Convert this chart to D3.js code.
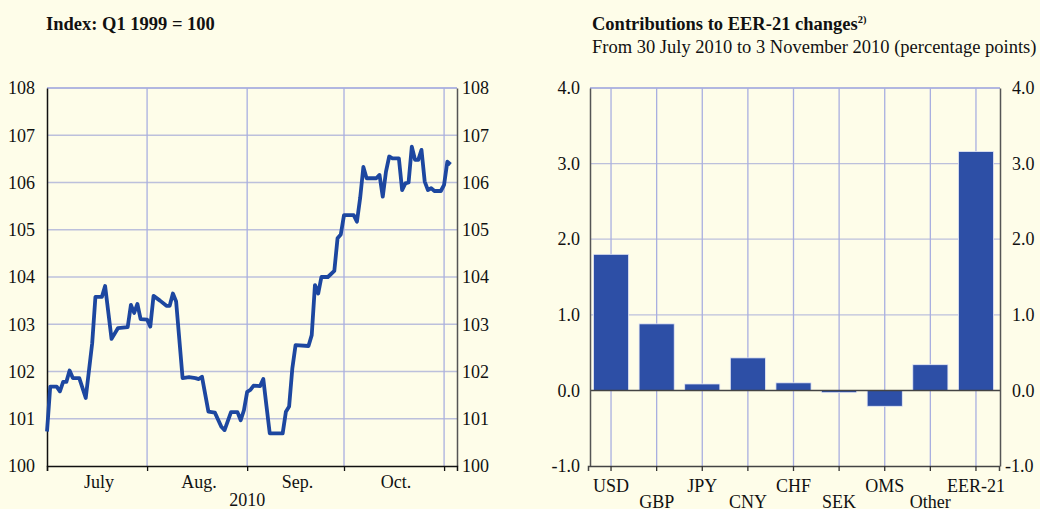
<!DOCTYPE html>
<html>
<head>
<meta charset="utf-8">
<script src="https://cdn.jsdelivr.net/npm/d3@7"></script>
<style>
  html, body { margin: 0; padding: 0; background: #fefde9; }
  svg { display: block; }
  text { font-family: "Liberation Serif", "Times New Roman", serif; fill: #111; }
</style>
</head>
<body>
<svg id="chart" width="1040" height="509"></svg>
<script>
// EER-21 index, daily (Index: Q1 1999 = 100)
const eerDates = [
  "2010-07-01","2010-07-02","2010-07-04","2010-07-05","2010-07-06","2010-07-07","2010-07-08","2010-07-09",
  "2010-07-11","2010-07-13","2010-07-15","2010-07-16","2010-07-18","2010-07-19","2010-07-21","2010-07-23",
  "2010-07-26","2010-07-27","2010-07-28","2010-07-29","2010-07-30","2010-08-01","2010-08-02","2010-08-03",
  "2010-08-05","2010-08-07","2010-08-08","2010-08-09","2010-08-10","2010-08-12","2010-08-14","2010-08-16",
  "2010-08-17","2010-08-18","2010-08-20","2010-08-22","2010-08-24","2010-08-25","2010-08-27","2010-08-29",
  "2010-08-30","2010-08-31","2010-09-01","2010-09-02","2010-09-03","2010-09-05","2010-09-06","2010-09-07",
  "2010-09-08","2010-09-12","2010-09-13","2010-09-14","2010-09-15","2010-09-16","2010-09-20","2010-09-21",
  "2010-09-22","2010-09-23","2010-09-24","2010-09-26","2010-09-28","2010-09-29","2010-09-30","2010-10-01",
  "2010-10-04","2010-10-05","2010-10-06","2010-10-07","2010-10-08","2010-10-11","2010-10-12","2010-10-13",
  "2010-10-14","2010-10-15","2010-10-16","2010-10-18","2010-10-19","2010-10-20","2010-10-21","2010-10-22",
  "2010-10-23","2010-10-24","2010-10-25","2010-10-26","2010-10-27","2010-10-28","2010-10-29","2010-10-31",
  "2010-11-01","2010-11-02","2010-11-03"
];
const eerValues = [
  100.73,101.68,101.68,101.58,101.78,101.78,102.02,101.86,
  101.86,101.44,102.60,103.58,103.58,103.81,102.69,102.92,
  102.94,103.41,103.24,103.43,103.11,103.10,102.95,103.60,
  103.50,103.39,103.39,103.65,103.48,101.86,101.88,101.86,
  101.84,101.89,101.15,101.13,100.83,100.76,101.14,101.14,
  100.97,101.18,101.57,101.61,101.70,101.69,101.84,101.26,
  100.69,100.69,101.15,101.26,102.07,102.56,102.54,102.77,
  103.83,103.65,104.00,104.00,104.13,104.82,104.90,105.31,
  105.31,105.17,105.67,106.33,106.09,106.09,106.16,105.70,
  106.23,106.55,106.51,106.51,105.84,105.98,106.00,106.76,
  106.48,106.48,106.69,106.02,105.84,105.88,105.82,105.82,
  105.95,106.44,106.38
];
const leftTicks = [100, 101, 102, 103, 104, 105, 106, 107, 108];
const monthLabels = ["July", "Aug.", "Sep.", "Oct."];
const monthStarts = ["2010-07-01", "2010-08-01", "2010-09-01", "2010-10-01", "2010-11-01"];
const yearLabel = "2010";

// Contributions to EER-21 changes (percentage points)
const currencies = ["USD", "GBP", "JPY", "CNY", "CHF", "SEK", "OMS", "Other", "EER-21"];
const contributions = [1.80, 0.88, 0.085, 0.43, 0.10, -0.03, -0.21, 0.34, 3.16];
const rightTicks = [-1.0, 0.0, 1.0, 2.0, 3.0, 4.0];

const svg = d3.select("#chart");
const parse = d3.timeParse("%Y-%m-%d");
const gridV = "#a9afe0";
const gridH = "#bcc0dc";
const lineBlue = "#1d47a0";
const barBlue = "#2d4fa6";
const fs = 18;

// ---------- Left panel: index line ----------
const L = { left: 47, right: 457, top: 88, bottom: 466 };
const x = d3.scaleTime()
  .domain([parse("2010-07-01"), parse("2010-11-05")])
  .range([L.left, L.right]);
const y = d3.scaleLinear().domain([100, 108]).range([L.bottom, L.top]);

svg.append("text").attr("x", 46).attr("y", 30)
  .attr("font-size", 18.5).attr("font-weight", "bold")
  .text("Index: Q1 1999 = 100");

const gL = svg.append("g");
gL.selectAll("line.h").data(leftTicks.filter(d => d > 100)).join("line")
  .attr("x1", L.left).attr("x2", L.right)
  .attr("y1", d => y(d)).attr("y2", d => y(d))
  .attr("stroke", gridH).attr("stroke-width", 1.3);
gL.selectAll("line.v").data(monthStarts.slice(1)).join("line")
  .attr("x1", d => x(parse(d))).attr("x2", d => x(parse(d)))
  .attr("y1", L.top).attr("y2", L.bottom)
  .attr("stroke", gridV).attr("stroke-width", 1.3);
gL.append("line").attr("x1", L.left).attr("x2", L.right)
  .attr("y1", L.top).attr("y2", L.top).attr("stroke", gridV).attr("stroke-width", 1.3);

const axL = d3.axisLeft(y).tickValues(leftTicks).tickSize(0).tickPadding(12).tickFormat(d3.format("d"));
const axR = d3.axisRight(y).tickValues(leftTicks).tickSize(0).tickPadding(5).tickFormat(d3.format("d"));
const gAL = svg.append("g").attr("transform", `translate(${L.left},0)`).call(axL);
const gAR = svg.append("g").attr("transform", `translate(${L.right},0)`).call(axR);
[gAL, gAR].forEach(g => {
  g.selectAll("text").attr("font-size", fs).attr("font-family", "Liberation Serif");
});
gAL.select(".domain").attr("stroke", "#111").attr("stroke-width", 1.5);
gAR.select(".domain").attr("stroke", "#555").attr("stroke-width", 1.5);

const axB = d3.axisBottom(x).tickValues(monthStarts.map(parse)).tickSize(5).tickFormat("");
const gAB = svg.append("g").attr("transform", `translate(0,${L.bottom})`).call(axB);
gAB.select(".domain").attr("stroke", "#111").attr("stroke-width", 1.5);
gAB.selectAll(".tick line").attr("stroke", "#111").attr("stroke-width", 1.3);

monthLabels.forEach((m, i) => {
  const cx = (x(parse(monthStarts[i])) + x(parse(monthStarts[i + 1]))) / 2;
  svg.append("text").attr("x", cx + 2).attr("y", 488)
    .attr("text-anchor", "middle").attr("font-size", fs).text(m);
});
svg.append("text").attr("x", x(parse("2010-09-01"))).attr("y", 506)
  .attr("text-anchor", "middle").attr("font-size", fs).text(yearLabel);

const series = eerDates.map((d, i) => ({ date: parse(d), value: eerValues[i] }));
svg.append("path").datum(series)
  .attr("fill", "none").attr("stroke", lineBlue).attr("stroke-width", 3.8)
  .attr("stroke-linejoin", "round")
  .attr("d", d3.line().x(d => x(d.date)).y(d => y(d.value)));

// ---------- Right panel: bar chart ----------
const R = { left: 590, right: 1000, top: 88, bottom: 466 };
const xb = d3.scaleBand().domain(currencies).range([R.left - 2, R.right - 1]).paddingInner(0.23).paddingOuter(0.12);
const yb = d3.scaleLinear().domain([-1, 4]).range([R.bottom, R.top]);

svg.append("text").attr("x", 592).attr("y", 30)
  .attr("font-size", 18.5).attr("font-weight", "bold")
  .text("Contributions to EER-21 changes")
  .append("tspan").attr("dy", -7).attr("font-size", 10.5).text("2)");
svg.append("text").attr("x", 592).attr("y", 53)
  .attr("font-size", 18.5)
  .text("From 30 July 2010 to 3 November 2010 (percentage points)");

const gR = svg.append("g");
gR.selectAll("line.h").data(rightTicks.filter(d => d > -1 && d !== 0)).join("line")
  .attr("x1", R.left).attr("x2", R.right)
  .attr("y1", d => yb(d)).attr("y2", d => yb(d))
  .attr("stroke", gridH).attr("stroke-width", 1.3);
gR.selectAll("line.v").data(currencies).join("line")
  .attr("x1", d => xb(d) + xb.bandwidth() / 2).attr("x2", d => xb(d) + xb.bandwidth() / 2)
  .attr("y1", R.top).attr("y2", R.bottom)
  .attr("stroke", gridV).attr("stroke-width", 1.3);
gR.append("line").attr("x1", R.left).attr("x2", R.right)
  .attr("y1", R.top).attr("y2", R.top).attr("stroke", gridV).attr("stroke-width", 1.3);

gR.selectAll("rect").data(currencies).join("rect")
  .attr("x", d => xb(d))
  .attr("width", xb.bandwidth())
  .attr("y", (d, i) => yb(Math.max(0, contributions[i])))
  .attr("height", (d, i) => Math.abs(yb(contributions[i]) - yb(0)))
  .attr("fill", barBlue)
  .attr("stroke", "#e6e9f6").attr("stroke-width", 0.8);

gR.append("line").attr("x1", R.left).attr("x2", R.right)
  .attr("y1", yb(0)).attr("y2", yb(0)).attr("stroke", "#444").attr("stroke-width", 1.5);

const bL = d3.axisLeft(yb).tickValues(rightTicks).tickSize(0).tickPadding(10).tickFormat(d3.format(".1f"));
const bR = d3.axisRight(yb).tickValues(rightTicks).tickSize(0).tickPadding(12).tickFormat(d3.format(".1f"));
const gBL = svg.append("g").attr("transform", `translate(${R.left},0)`).call(bL);
const gBR = svg.append("g").attr("transform", `translate(${R.right},0)`).call(bR);
[gBL, gBR].forEach(g => {
  g.selectAll("text").attr("font-size", fs).attr("font-family", "Liberation Serif")
    .text(d => d3.format(".1f")(d).replace("−", "-"));
  g.select(".domain").attr("stroke", "#555").attr("stroke-width", 1.5);
});
gBR.selectAll(".tick text").attr("x", d => d < 0 ? 5 : 12);

const bB = d3.axisBottom(xb).tickSize(5).tickFormat("");
const gBB = svg.append("g").attr("transform", `translate(0,${R.bottom})`).call(bB);
gBB.select(".domain").attr("stroke", "#444").attr("stroke-width", 1.5);
gBB.selectAll(".tick line").attr("stroke", "#333").attr("stroke-width", 1.3);

currencies.forEach((c, i) => {
  svg.append("text")
    .attr("x", xb(c) + xb.bandwidth() / 2)
    .attr("y", i % 2 === 0 ? 492 : 508)
    .attr("text-anchor", "middle").attr("font-size", fs).text(c);
});
</script>
</body>
</html>
